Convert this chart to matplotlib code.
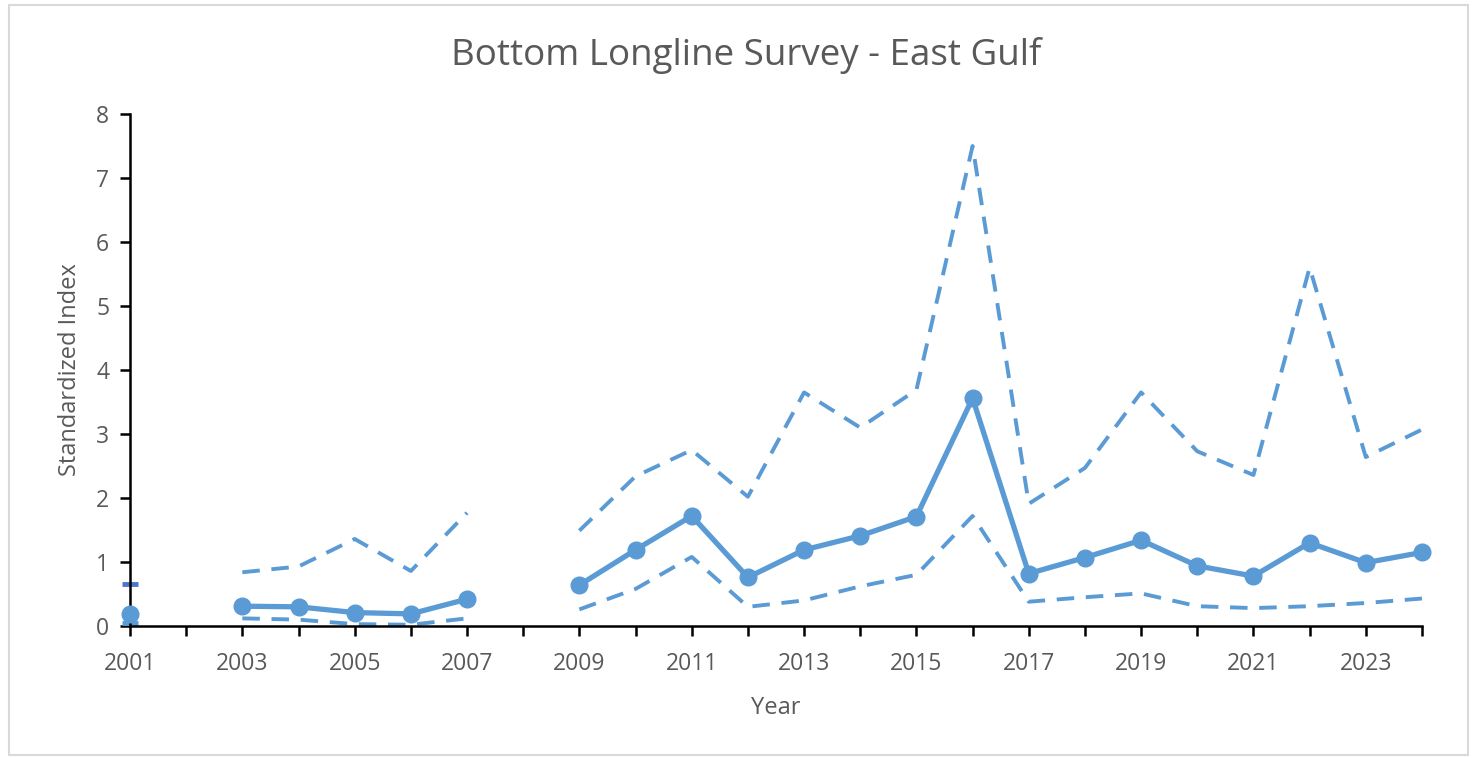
import numpy as np
import matplotlib
matplotlib.use('Agg')
import matplotlib.pyplot as plt
from matplotlib.patches import Rectangle

plt.rcParams['font.family'] = ['Open Sans', 'DejaVu Sans']

nan = np.nan
years = list(range(2001, 2025))
index = [0.19, nan, 0.31, 0.30, 0.21, 0.19, 0.42, nan, 0.64, 1.19, 1.72, 0.76,
         1.19, 1.41, 1.71, 3.56, 0.82, 1.07, 1.34, 0.94, 0.78, 1.30, 0.99, 1.15]
upper = [0.65, nan, 0.84, 0.93, 1.36, 0.86, 1.77, nan, 1.49, 2.34, 2.75, 2.02,
         3.65, 3.10, 3.69, 7.50, 1.91, 2.47, 3.65, 2.73, 2.36, 5.60, 2.64, 3.07]
lower = [0.05, nan, 0.12, 0.10, 0.03, 0.02, 0.12, nan, 0.26, 0.58, 1.08, 0.30,
         0.40, 0.62, 0.80, 1.72, 0.38, 0.45, 0.51, 0.31, 0.28, 0.31, 0.36, 0.43]
tick_years = list(range(2001, 2025, 2))

blue = '#5b9bd5'
grey = '#595959'


def isolated(vals):
    # points with no neighbour on either side: a line alone would not show them
    v = np.array(vals, dtype=float)
    out = np.full_like(v, nan)
    for i, x in enumerate(v):
        left = np.isnan(v[i - 1]) if i > 0 else True
        right = np.isnan(v[i + 1]) if i < len(v) - 1 else True
        if not np.isnan(x) and left and right:
            out[i] = x
    return out


fig = plt.figure(figsize=(14.74, 7.58), dpi=100)
fig.patches.append(Rectangle((0.006, 0.004), 0.99, 0.99, transform=fig.transFigure,
                             fill=False, edgecolor='#d9d9d9', linewidth=1.5))
ax = fig.add_axes([0.0882, 0.1741, 0.8765, 0.6755])

ax.plot(years, upper, color=blue, lw=2.8, dashes=(4.5, 3), clip_on=False)
ax.plot(years, lower, color=blue, lw=2.8, dashes=(4.5, 3), clip_on=False)
ax.plot(years, isolated(upper), ls='none', marker='_', ms=12, mew=3.5, color='#4a78c6', clip_on=False)
ax.plot(years, isolated(lower), ls='none', marker='_', ms=12, mew=3.5, color=blue, clip_on=False)
ax.plot(years, index, color=blue, lw=3.8, marker='o', ms=12, clip_on=False, zorder=5)

ax.set_xlim(2001, 2024)
ax.set_ylim(0, 8)
ax.set_xticks(years)
ax.set_xticklabels([str(y) if y in tick_years else '' for y in years])
ax.set_yticks(range(0, 9))

for side in ['top', 'right']:
    ax.spines[side].set_visible(False)
for side in ['left', 'bottom']:
    ax.spines[side].set_linewidth(1.8)
    ax.spines[side].set_color('black')
ax.tick_params(axis='both', direction='out', length=7, width=1.8, color='black',
               labelsize=16.5, labelcolor=grey)
ax.tick_params(axis='x', pad=12)
ax.tick_params(axis='y', pad=8)

# title is centred on the whole chart, not on the plot area
fig.text(0.506, 0.927, 'Bottom Longline Survey - East Gulf', fontsize=26.5, color=grey,
         ha='center', va='center')
ax.set_xlabel('Year', fontsize=17, color=grey, labelpad=14)
ax.set_ylabel('Standardized Index', fontsize=17, color=grey, labelpad=10)

fig.savefig('out.png', dpi=100)
